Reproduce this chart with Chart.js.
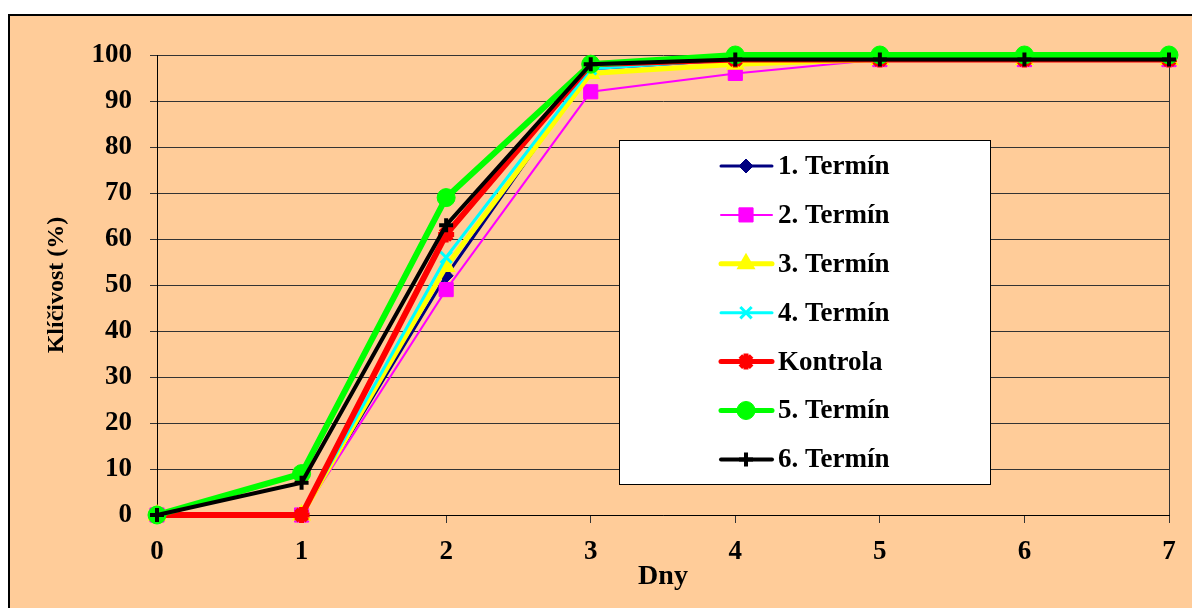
<!DOCTYPE html>
<html>
<head>
<meta charset="utf-8">
<script src="https://cdn.jsdelivr.net/npm/chart.js@4.4.1/dist/chart.umd.min.js"></script>
<style>
html,body{margin:0;padding:0;background:#fff;}
canvas{display:block;}
</style>
</head>
<body>
<canvas id="c" width="1192" height="608"></canvas>
<script>
const days = ['0','1','2','3','4','5','6','7'];
const seriesNames = ['1. Termín','2. Termín','3. Termín','4. Termín','Kontrola','5. Termín','6. Termín'];
const termin1 = [0,0,52,97,99,99,99,99];
const termin2 = [0,0,49,92,96,99,99,99];
const termin3 = [0,0,54,96,98,99,99,99];
const termin4 = [0,0,56,97,99,99,99,99];
const kontrola = [0,0,61,98,99,99,99,99];
const termin5 = [0,9,69,98,100,100,100,100];
const termin6 = [0,7,63,98,99,99,99,99];
const yTicks = [0,10,20,30,40,50,60,70,80,90,100];

const seriesData = [termin1,termin2,termin3,termin4,kontrola,termin5,termin6];
const styles = [
  {color:'#000080', width:3, point:'rectRot', radius:7, pbw:1},
  {color:'#FF00FF', width:2, point:'rect', radius:10, pbw:1},
  {color:'#FFFF00', width:5, point:'triangle', radius:9, pbw:2},
  {color:'#00FFFF', width:3, point:'crossRot', radius:8, pbw:3},
  {color:'#FF0000', width:6, point:'star', radius:8, pbw:5},
  {color:'#00FF00', width:6, point:'circle', radius:9, pbw:1},
  {color:'#000000', width:4, point:'cross', radius:7, pbw:4}
];

const FONT = "'Liberation Serif', 'Times New Roman', serif";

const datasets = seriesData.map((d,i)=>({
  label: seriesNames[i],
  data: d,
  borderColor: styles[i].color,
  backgroundColor: styles[i].color,
  borderWidth: styles[i].width,
  pointStyle: styles[i].point,
  pointRadius: styles[i].radius,
  pointBorderWidth: styles[i].pbw,
  pointBackgroundColor: styles[i].color,
  pointBorderColor: styles[i].color,
  tension: 0,
  clip: false,
  order: 7 - i
}));

const framePlugin = {
  id:'frame',
  beforeDraw(chart){
    const ctx = chart.ctx;
    ctx.save();
    ctx.fillStyle = '#ffffff';
    ctx.fillRect(0,0,chart.width,chart.height);
    ctx.fillStyle = '#FFCC99';
    ctx.fillRect(8,14,chart.width-8,chart.height-14);
    ctx.strokeStyle = '#000';
    ctx.lineWidth = 2;
    ctx.beginPath();
    ctx.moveTo(9,chart.height);
    ctx.lineTo(9,15);
    ctx.lineTo(chart.width,15);
    ctx.stroke();
    ctx.restore();
  }
};

const legendPlugin = {
  id:'boxLegend',
  afterDraw(chart){
    const ctx = chart.ctx;
    ctx.save();
    const bx=619.5, by=140.5, bw=371, bh=344;
    ctx.fillStyle='#ffffff';
    ctx.fillRect(bx,by,bw,bh);
    ctx.strokeStyle='#000';
    ctx.lineWidth=1;
    ctx.strokeRect(bx,by,bw,bh);
    chart.data.datasets.forEach((ds,i)=>{
      const y = 166 + i*48.9;
      ctx.strokeStyle = ds.borderColor;
      ctx.lineWidth = Math.min(ds.borderWidth,5);
      ctx.lineCap = 'round';
      ctx.beginPath();
      ctx.moveTo(721,y);
      ctx.lineTo(772,y);
      ctx.stroke();
      ctx.fillStyle = ds.pointBackgroundColor;
      ctx.strokeStyle = ds.pointBorderColor;
      ctx.lineWidth = ds.pointBorderWidth;
      ctx.lineCap = 'butt';
      Chart.helpers.drawPoint(ctx, {pointStyle: ds.pointStyle, radius: ds.pointRadius, borderWidth: ds.pointBorderWidth, rotation:0}, 746, y);
      ctx.fillStyle='#000';
      ctx.font = "bold 27px " + FONT;
      ctx.textBaseline='middle';
      ctx.textAlign='left';
      ctx.fillText(ds.label, 778, y+1);
    });
    ctx.restore();
  }
};

new Chart(document.getElementById('c'), {
  type:'line',
  data:{labels: days, datasets},
  options:{
    responsive:false,
    animation:false,
    devicePixelRatio:1,
    layout:{padding:{top:55,right:23,left:0,bottom:0}},
    plugins:{legend:{display:false}, tooltip:{enabled:false}},
    scales:{
      x:{
        offset:false,
        afterFit(s){ s.height = 93; },
        grid:{
          color:(c)=> c.index===7 ? '#333' : 'rgba(0,0,0,0)',
          tickColor:'#333',
          tickLength:8,
          lineWidth:1
        },
        border:{display:true,color:'#000',width:1},
        ticks:{color:'#000',font:{family:FONT,size:27,weight:'bold'},padding:13,maxRotation:0},
        title:{display:true,text:'Dny',color:'#000',font:{family:FONT,size:28,weight:'bold'},padding:{top:0,bottom:14}}
      },
      y:{
        min:0,max:100,
        afterFit(s){ s.width = 157; },
        afterBuildTicks(s){ s.ticks = yTicks.map(v=>({value:v})); },
        grid:{color:'#333',tickColor:'#333',tickLength:7,lineWidth:1},
        border:{display:true,color:'#000',width:1},
        ticks:{color:'#000',font:{family:FONT,size:27,weight:'bold'},padding:18},
        title:{display:true,text:'Klíčivost (%)',color:'#000',font:{family:FONT,size:24,weight:'bold'},padding:{top:42,bottom:0}}
      }
    }
  },
  plugins:[framePlugin, legendPlugin]
});
</script>
</body>
</html>
